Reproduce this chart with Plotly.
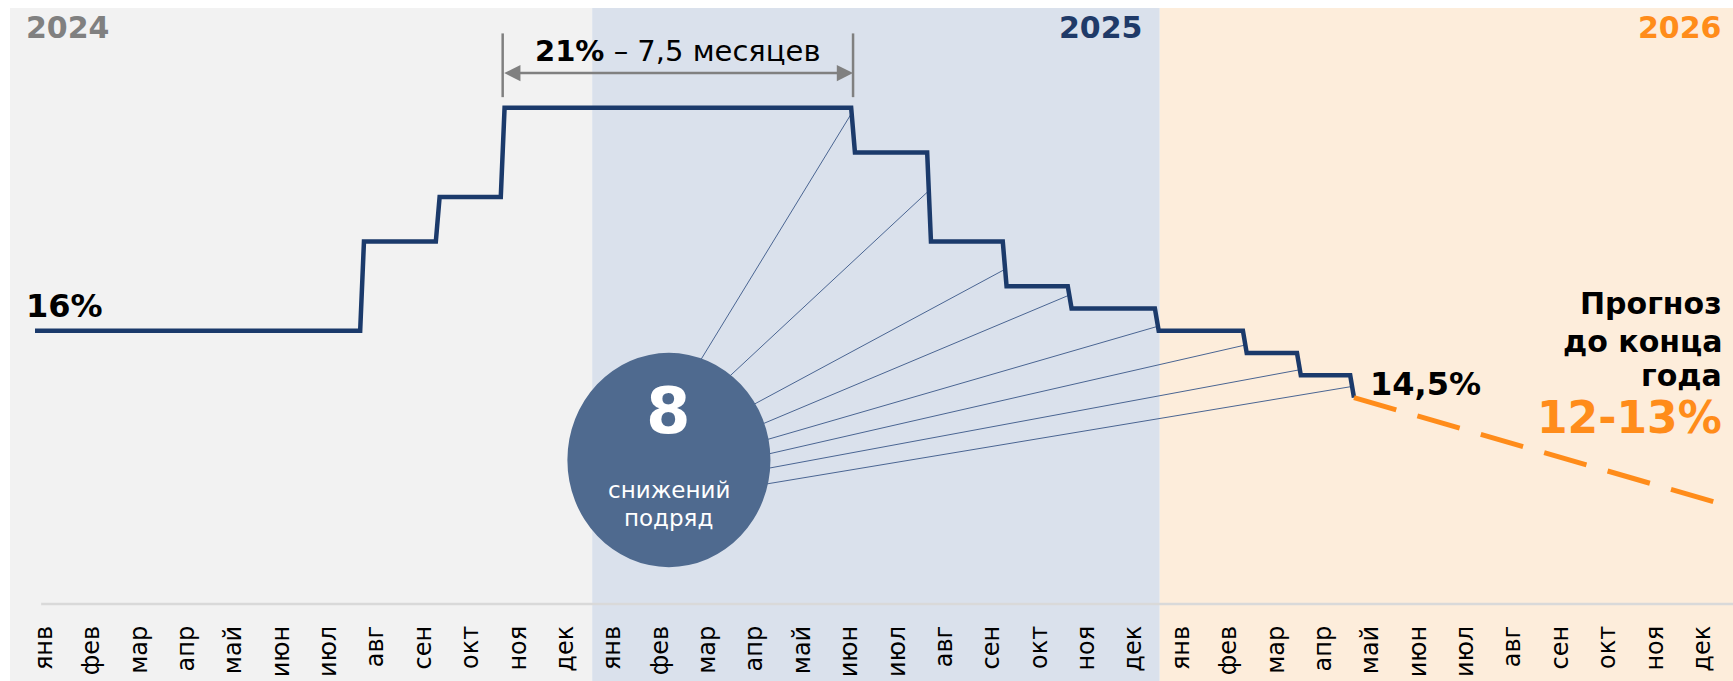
import calendar
import datetime as dt
import math
import plotly.graph_objects as go

# ---------------- data ----------------
months = ["янв", "фев", "мар", "апр", "май", "июн", "июл", "авг", "сен", "окт", "ноя", "дек"]
years = [2024, 2025, 2026]
year_labels = ["2024", "2025", "2026"]

start_date = "2024-01-01"
start_rate = 16.0
change_dates = ["2024-07-29", "2024-09-16", "2024-10-28", "2025-06-09", "2025-07-28",
                "2025-09-15", "2025-10-27", "2025-12-22", "2026-02-16", "2026-03-22",
                "2026-04-25"]
change_rates = [18.0, 19.0, 21.0, 20.0, 18.0, 17.0, 16.5, 16.0, 15.5, 15.0, 14.5]

forecast_end_date = "2026-12-31"
forecast_end_rate = 12.0

# ---------------- styles ----------------
NAVY = "#1b3a6b"
ORANGE = "#ff8c1a"
GRAY_TXT = "#808080"
CIRCLE = "#4f6a8f"
FAN = "#4a6592"
PANEL_COLORS = ["#f2f2f2", "#dae1ec", "#fdeddb"]
YEAR_COLORS = ["#808080", "#1f3a68", "#ff8c1a"]
FONT = "DejaVu Sans"

TICK_OFFSET = -0.19   # month tick sits a few days after month start
SLANT = 0.04


def mpos(s):
    d = dt.date.fromisoformat(s)
    dim = calendar.monthrange(d.year, d.month)[1]
    return (d.year - years[0]) * 12 + d.month - 1 + (d.day - 1) / dim + TICK_OFFSET


# step line
sx = [mpos(start_date)]
sy = [start_rate]
prev = start_rate
for d, r in zip(change_dates, change_rates):
    xc = mpos(d)
    sx += [xc - SLANT, xc + SLANT]
    sy += [prev, r]
    prev = r

x_last, y_last = sx[-1], sy[-1]

XR = [-0.718, 35.65]
YR = [9.87, 23.24]

fig = go.Figure()

# fan lines from circle to each cut
cx, cy, rx, ry = 13.19, 13.10, 2.143, 2.404
angles = [72, 53, 32, 20, 11, 3, -5, -14]
fracs = [0.12, 0.43, 0.62, 0.4, 0.8, 0.64, 0.75, 0.5]
fx, fy = [], []
cut_i = 0
prev = start_rate
for d, r in zip(change_dates, change_rates):
    if r < prev:
        xc = mpos(d)
        f = fracs[cut_i]
        tx = xc - SLANT + 2 * SLANT * f
        ty = prev - f * (prev - r)
        a = math.radians(angles[cut_i])
        fx += [cx + 0.95 * rx * math.cos(a), tx, None]
        fy += [cy + 0.95 * ry * math.sin(a), ty, None]
        cut_i += 1
    prev = r

fig.add_trace(go.Scatter(x=fx, y=fy, mode="lines", line=dict(color=FAN, width=1),
                         hoverinfo="skip", showlegend=False))

fig.add_trace(go.Scatter(x=sx, y=sy, mode="lines", line=dict(color=NAVY, width=4.5),
                         hoverinfo="skip", showlegend=False))

fig.add_trace(go.Scatter(x=[x_last, mpos(forecast_end_date)], y=[y_last, forecast_end_rate],
                         mode="lines", line=dict(color=ORANGE, width=5, dash="44px,22px"),
                         hoverinfo="skip", showlegend=False))

shapes = []
# year panels
bounds = [XR[0] - 1, 11.57, 23.55, XR[1] + 1]
for k in range(3):
    shapes.append(dict(type="rect", xref="x", yref="paper", x0=bounds[k], x1=bounds[k + 1],
                       y0=-0.2, y1=1, fillcolor=PANEL_COLORS[k], line=dict(width=0),
                       layer="below"))
# axis line
shapes.append(dict(type="line", xref="x", yref="paper", x0=-0.06, x1=XR[1] + 1, y0=0, y1=0,
                   line=dict(color="#d9d9d9", width=2.5), layer="below"))

# 21% bracket
x21a = mpos(change_dates[2])
x21b = mpos(change_dates[3])
for xv in (x21a, x21b):
    shapes.append(dict(type="line", xref="x", yref="y", x0=xv, x1=xv, y0=21.24, y1=22.67,
                       line=dict(color=GRAY_TXT, width=2.5)))
# circle
shapes.append(dict(type="circle", xref="x", yref="y", x0=cx - rx, x1=cx + rx,
                   y0=cy - ry, y1=cy + ry, fillcolor=CIRCLE, line=dict(width=0),
                   layer="above"))

ann = []
ann.append(dict(x=x21b, y=21.78, ax=x21a, ay=21.78, xref="x", yref="y", axref="x", ayref="y",
                text="", showarrow=True, arrowside="end+start", arrowhead=2,
                startarrowhead=2, arrowsize=1.3, startarrowsize=1.3, arrowwidth=2.5,
                arrowcolor=GRAY_TXT, standoff=0, startstandoff=0))
ann.append(dict(x=(x21a + x21b) / 2, y=22.27, xref="x", yref="y", showarrow=False,
                text="<b>21%</b> – 7,5 месяцев", font=dict(family=FONT, size=29, color="#000")))

# year labels
ann.append(dict(x=-0.42, y=22.81, xref="x", yref="y", xanchor="left", showarrow=False,
                text="<b>%s</b>" % year_labels[0], font=dict(family=FONT, size=30, color=YEAR_COLORS[0])))
ann.append(dict(x=23.24, y=22.81, xref="x", yref="y", xanchor="right", showarrow=False,
                text="<b>%s</b>" % year_labels[1], font=dict(family=FONT, size=30, color=YEAR_COLORS[1])))
ann.append(dict(x=35.47, y=22.81, xref="x", yref="y", xanchor="right", showarrow=False,
                text="<b>%s</b>" % year_labels[2], font=dict(family=FONT, size=30, color=YEAR_COLORS[2])))

# value labels
ann.append(dict(x=-0.42, y=16.56, xref="x", yref="y", xanchor="left", showarrow=False,
                text="<b>16%</b>", font=dict(family=FONT, size=32, color="#000")))
ann.append(dict(x=27.95, y=14.81, xref="x", yref="y", xanchor="left", showarrow=False,
                text="<b>14,5%</b>", font=dict(family=FONT, size=32, color="#000")))

# forecast text
for txt, yv in (("Прогноз", 16.60), ("до конца", 15.76), ("года", 14.99)):
    ann.append(dict(x=35.47, y=yv, xref="x", yref="y", xanchor="right", showarrow=False,
                    text="<b>%s</b>" % txt, font=dict(family=FONT, size=30, color="#000")))
ann.append(dict(x=35.47, y=14.05, xref="x", yref="y", xanchor="right", showarrow=False,
                text="<b>12-13%</b>", font=dict(family=FONT, size=44, color=ORANGE)))

# circle text
ann.append(dict(x=cx, y=14.2, xref="x", yref="y", showarrow=False,
                text="<b>8</b>", font=dict(family=FONT, size=64, color="#ffffff")))
ann.append(dict(x=cx, y=12.43, xref="x", yref="y", showarrow=False,
                text="снижений", font=dict(family=FONT, size=23, color="#ffffff")))
ann.append(dict(x=cx, y=11.8, xref="x", yref="y", showarrow=False,
                text="подряд", font=dict(family=FONT, size=23, color="#ffffff")))

fig.update_layout(
    width=1733, height=681,
    margin=dict(l=10, r=0, t=8, b=77),
    paper_bgcolor="#ffffff", plot_bgcolor="rgba(0,0,0,0)",
    shapes=shapes, annotations=ann, showlegend=False,
    xaxis=dict(range=XR, tickmode="array", tickvals=list(range(36)),
               ticktext=months * 3, tickangle=-90, showgrid=False, zeroline=False,
               showline=False, ticks="", ticklabelstandoff=16,
               tickfont=dict(family=FONT, size=24, color="#000")),
    yaxis=dict(range=YR, visible=False, showgrid=False, zeroline=False),
)

fig.write_html("out.html",
               config={"displayModeBar": False},
               post_script="document.body.style.margin='0px';"
                           "document.body.style.overflow='hidden';")
